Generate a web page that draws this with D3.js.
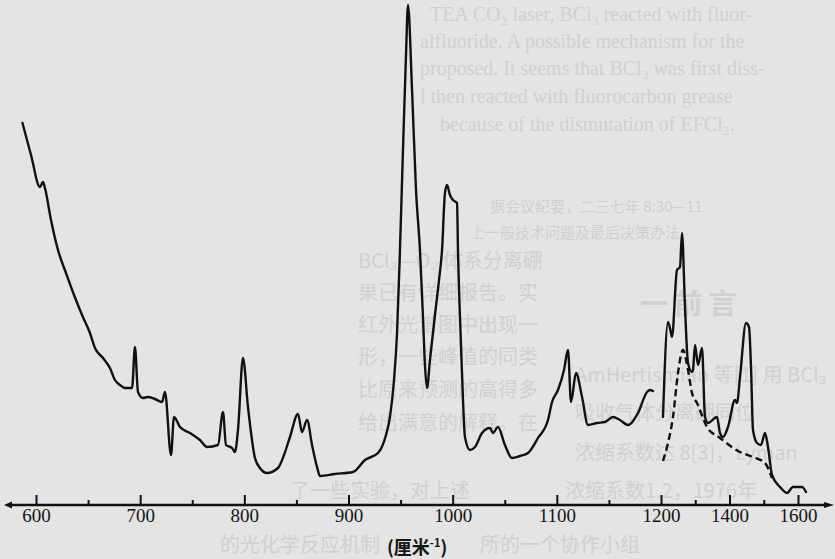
<!DOCTYPE html>
<html>
<head>
<meta charset="utf-8">
<script src="https://cdn.jsdelivr.net/npm/d3@7"></script>
<style>
  html, body { margin: 0; padding: 0; background: #e4e4e4; }
  svg { display: block; }
  .bleed { fill: #d0d0d0; }
  .tick text { font-family: "Liberation Serif", serif; font-size: 19px; fill: #151515; }
</style>
</head>
<body>
<svg id="svg" width="835" height="559"></svg>
<script>
// wavenumber (cm-1) / relative absorption (0-100)
const band1 = [
  [587.0, 76.4], [595.2, 70], [603.8, 63.6], [606.7, 64.6], [608.6, 63.4],
  [614.4, 57], [621.1, 51], [628.8, 46.4], [636.5, 42], [644.2, 38],
  [651.8, 34.4], [656.6, 31.4], [664.3, 29.4], [671.0, 27.4], [675.8, 25],
  [680.6, 24], [685.4, 23.4], [692.2, 23.4], [695.0, 31.6], [697.9, 22.6],
  [702.7, 21.4], [707.5, 21.6], [714.2, 21.2], [721.0, 20.6], [723.8, 22.6],
  [729.6, 10], [732.5, 17.6], [738.2, 15.6], [747.8, 14.4], [757.4, 13],
  [764.2, 11.6], [774.7, 12], [779.5, 18.6], [782.4, 12], [788.2, 11.4],
  [791.0, 10.6], [793.9, 15], [798.7, 29.4], [803.5, 19.6], [810.2, 9.4],
  [815.0, 7.4], [821.8, 6.4], [832.3, 7.4], [838.1, 10], [843.8, 13.6],
  [851.5, 18.2], [855.4, 14.6], [860.2, 17], [865.0, 12], [869.8, 7.6],
  [872.6, 5.8], [887.0, 6.2], [904.3, 6.6], [915.8, 9], [928.3, 10.4],
  [936.0, 14], [939.8, 17.6], [943.7, 25], [946.6, 34.4], [949.4, 51],
  [952.3, 71], [955.2, 90], [957.1, 100], [961.0, 83], [964.8, 63],
  [968.6, 51], [971.5, 37.6], [973.4, 28], [975.4, 23.4], [978.2, 29],
  [983.0, 38], [986.9, 45], [989.8, 51], [992.6, 62.4], [994.6, 64],
  [997.4, 62], [1000.3, 61], [1004.2, 60.4], [1005.1, 51], [1007.0, 37.6],
  [1009.9, 21], [1011.8, 13.6], [1016.6, 11], [1021.4, 11.6], [1028.2, 14.4],
  [1035.8, 15.4], [1038.7, 14.4], [1043.5, 15.6], [1050.2, 12], [1057.0, 9.4],
  [1064.6, 9.8], [1072.3, 10.4], [1081.9, 13.4], [1091.5, 17], [1095.4, 20.6],
  [1101.1, 23], [1106.9, 27], [1110.7, 31], [1113.6, 20.6], [1118.4, 26.4],
  [1124.2, 21.6], [1129.9, 16], [1138.6, 16.4], [1146.2, 16.6], [1153.9, 17.6],
  [1160.6, 17], [1168.3, 16], [1177.9, 18.4], [1186.6, 22.6], [1189.4, 23],
  [1192.3, 22.8]
];

const band2 = [
  [1205.8, 17.6], [1220.4, 36.6], [1229.2, 34.4], [1232.1, 33.6], [1246.7, 47],
  [1255.5, 47.6], [1261.3, 54.4], [1270.1, 39.6], [1278.8, 28.4], [1290.5, 26.6],
  [1293.4, 27], [1299.3, 32], [1308.0, 28], [1319.7, 31.4], [1328.5, 17.6],
  [1337.2, 16.4], [1363.5, 17.6], [1372.3, 14.4], [1381.0, 13.6], [1395.6, 15.6],
  [1416.1, 21], [1421.9, 20.4], [1430.7, 25.6], [1448.2, 36.4], [1457.0, 35.6],
  [1462.8, 27.6], [1468.6, 15], [1480.3, 12.4], [1492.0, 12], [1503.7, 14.4],
  [1512.4, 11.6], [1524.1, 6], [1547.5, 3.6], [1567.9, 2.4], [1585.4, 3.6],
  [1611.7, 3.6], [1623.4, 2.6]
];

// dashed trace
const band2b = [
  [1205.8, 8.8], [1220.4, 12.4], [1235.0, 17.6], [1249.6, 26.4], [1264.2, 31],
  [1278.8, 27], [1290.5, 22.4], [1305.1, 20.4], [1334.3, 15.6], [1372.3, 13.4],
  [1430.7, 10.6], [1468.6, 9.6], [1503.7, 8.4], [1524.1, 5.4]
];

const majorTicks = [600, 700, 800, 900, 1000, 1100, 1200, 1400, 1600];
const minorTicks = [650, 750, 850, 950, 1050, 1150, 1300, 1500];

// show-through from the other side of the page
const bleedEn = [
  [430, 21, "TEA CO\u2082 laser, BCl\u2083 reacted with fluor-"],
  [420, 48, "alfluoride. A possible mechanism for the"],
  [420, 75, "proposed. It seems that BCl\u2083 was first diss-"],
  [420, 103, "l then reacted with fluorocarbon grease"],
  [440, 131, "because of the dismutation of EFCl\u2082."]
];
const bleedCn = [
  [490, 212, 15, "据会议纪要，二三七年 8:30—11"],
  [470, 238, 15, "上一般技术问题及最后决策办法"],
  [358, 268, 20, "BCl\u2083—O\u2082 体系分离硼"],
  [358, 300, 20, "果已有详细报告。实"],
  [358, 332, 20, "红外光谱图中出现一"],
  [358, 364, 20, "形，一些峰值的同类"],
  [358, 397, 20, "比原来预测的高得多"],
  [358, 430, 20, "给出满意的解释。在"],
  [290, 498, 20, "了一些实验，对上述"],
  [220, 552, 20, "的光化学反应机制"],
  [575, 382, 20, "AmHertismian 等[1] 用 BCl\u2083"],
  [575, 420, 20, "吸收气体分离硼同位"],
  [575, 460, 20, "浓缩系数达 8[3]，Lyman"],
  [565, 498, 20, "浓缩系数1.2，1976年"],
  [480, 552, 20, "所的一个协作小组"]
];

const svg = d3.select("#svg");

const x = d3.scaleLinear().domain([600, 1200, 1600]).range([36, 661, 798]);
const y = d3.scaleLinear().domain([0, 100]).range([505, 5]);

const bleed = svg.append("g");
bleed
  .selectAll(".en")
  .data(bleedEn)
  .enter()
  .append("text")
  .attr("class", "bleed")
  .attr("x", (d) => d[0])
  .attr("y", (d) => d[1])
  .style("font-family", "Liberation Serif, serif")
  .style("font-size", "20px")
  .text((d) => d[2]);
bleed
  .selectAll(".cn")
  .data(bleedCn)
  .enter()
  .append("text")
  .attr("class", "bleed")
  .attr("x", (d) => d[0])
  .attr("y", (d) => d[1])
  .style("font-family", "Noto Sans CJK SC, sans-serif")
  .style("font-size", (d) => d[2] + "px")
  .text((d) => d[3]);
bleed
  .append("text")
  .attr("class", "bleed")
  .attr("x", 640)
  .attr("y", 314)
  .style("font-family", "Noto Sans CJK SC, sans-serif")
  .style("font-size", "28px")
  .style("font-weight", "bold")
  .text("一  前  言");

// baseline with arrow ends
svg
  .append("line")
  .attr("x1", 8)
  .attr("x2", 828)
  .attr("y1", y(0))
  .attr("y2", y(0))
  .attr("stroke", "#111")
  .attr("stroke-width", 2.4);
svg
  .append("path")
  .attr("d", `M4,${y(0)} L12,${y(0) - 3.5} L12,${y(0) + 3.5} Z`)
  .attr("fill", "#111");
svg
  .append("path")
  .attr("d", `M834,${y(0)} L824,${y(0) - 3} L824,${y(0) + 3} Z`)
  .attr("fill", "#111");

const axisMajor = d3
  .axisBottom(x)
  .tickValues(majorTicks)
  .tickSizeInner(-10)
  .tickSizeOuter(0)
  .tickPadding(3)
  .tickFormat(d3.format("d"));

const gMajor = svg
  .append("g")
  .attr("transform", `translate(0,${y(0)})`)
  .call(axisMajor);
gMajor.select(".domain").remove();
gMajor.selectAll(".tick line").attr("stroke", "#111").attr("stroke-width", 2);

const gMinor = svg
  .append("g")
  .attr("transform", `translate(0,${y(0)})`)
  .call(d3.axisBottom(x).tickValues(minorTicks).tickSize(-5).tickFormat(""));
gMinor.select(".domain").remove();
gMinor.selectAll(".tick line").attr("stroke", "#111").attr("stroke-width", 2);

const title = svg
  .append("text")
  .attr("x", 387)
  .attr("y", 554)
  .style("font-family", "Noto Sans CJK SC, sans-serif")
  .style("font-size", "18px")
  .style("font-weight", "bold")
  .attr("fill", "#151515");
title.append("tspan").text("(厘米");
title.append("tspan").attr("dy", -7).style("font-size", "11px").text("-1");
title.append("tspan").attr("dy", 7).text(")");

const line = d3
  .line()
  .x((d) => x(d[0]))
  .y((d) => y(d[1]))
  .curve(d3.curveMonotoneX);

svg
  .selectAll(".trace")
  .data([band1, band2])
  .enter()
  .append("path")
  .attr("class", "trace")
  .attr("d", line)
  .attr("fill", "none")
  .attr("stroke", "#111")
  .attr("stroke-width", 2.4)
  .attr("stroke-linejoin", "round")
  .attr("stroke-linecap", "round");

svg
  .append("path")
  .attr("d", line(band2b))
  .attr("fill", "none")
  .attr("stroke", "#111")
  .attr("stroke-width", 2.4)
  .attr("stroke-dasharray", "7,4");
</script>
</body>
</html>
